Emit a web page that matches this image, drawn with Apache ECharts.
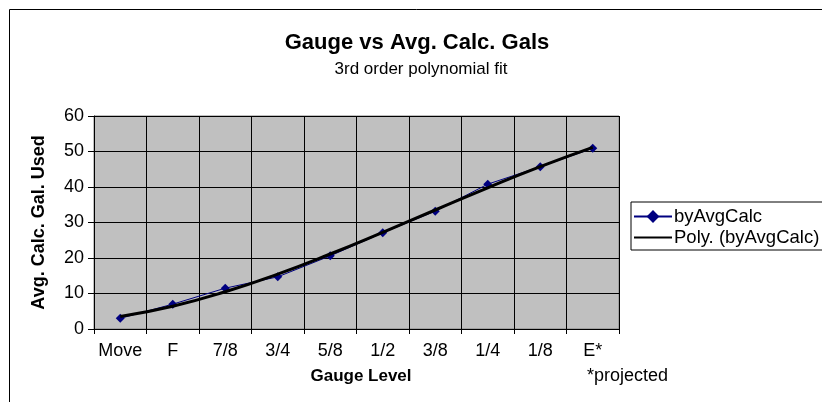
<!DOCTYPE html>
<html>
<head>
<meta charset="utf-8">
<script src="https://cdn.jsdelivr.net/npm/echarts@6/dist/echarts.min.js"></script>
<style>
  html, body { margin: 0; padding: 0; background: #fff; }
  #chart { width: 822px; height: 402px; }
</style>
</head>
<body>
<div id="chart"></div>
<script>
  // gauge levels and average calculated gallons used
  var gaugeLevels = ['Move', 'F', '7/8', '3/4', '5/8', '1/2', '3/8', '1/4', '1/8', 'E*'];
  var avgCalcGals = [3.0, 7.0, 11.5, 14.7, 20.6, 27.1, 33.2, 40.8, 45.7, 50.9];
  var yTicks = [0, 10, 20, 30, 40, 50, 60];

  // 3rd order least squares fit of the data (trendline)
  function polyFit(ys, order) {
    var n = order + 1, A = [], i, j, k;
    for (i = 0; i < n; i++) {
      A.push([]);
      for (j = 0; j <= n; j++) A[i].push(0);
    }
    ys.forEach(function (y, x) {
      for (i = 0; i < n; i++) {
        for (j = 0; j < n; j++) A[i][j] += Math.pow(x, i + j);
        A[i][n] += y * Math.pow(x, i);
      }
    });
    for (i = 0; i < n; i++) {
      for (k = i + 1; k < n; k++) {
        var f = A[k][i] / A[i][i];
        for (j = i; j <= n; j++) A[k][j] -= f * A[i][j];
      }
    }
    var c = new Array(n);
    for (i = n - 1; i >= 0; i--) {
      var s = A[i][n];
      for (j = i + 1; j < n; j++) s -= A[i][j] * c[j];
      c[i] = s / A[i][i];
    }
    return ys.map(function (y, x) {
      var v = 0;
      for (i = 0; i < n; i++) v += c[i] * Math.pow(x, i);
      return +v.toFixed(2);
    });
  }
  var polyFitGals = polyFit(avgCalcGals, 3);

  var font = 'Liberation Sans, Arial, sans-serif';
  var chart = echarts.init(document.getElementById('chart'));

  chart.setOption({
    backgroundColor: '#fff',
    animation: false,
    title: [{
      text: 'Gauge vs Avg. Calc. Gals',
      left: 412,
      top: 27,
      textAlign: 'center',
      textStyle: {fontFamily: font, fontSize: 22, fontWeight: 'bold', color: '#000'}
    }, {
      text: '3rd order polynomial fit',
      left: 416,
      top: 56,
      textAlign: 'center',
      textStyle: {fontFamily: font, fontSize: 17, fontWeight: 'normal', color: '#000'}
    }],
    legend: {
      orient: 'vertical',
      left: 631,
      top: 202,
      padding: [5, 4, 3, 2],
      itemGap: 2,
      itemWidth: 38,
      itemHeight: 16,
      borderColor: '#000',
      borderWidth: 1,
      borderRadius: 0,
      textStyle: {fontFamily: font, fontSize: 18.5, color: '#000', padding: [0, 0, 0, -3]},
      data: [
        {name: 'byAvgCalc'},
        {name: 'Poly. (byAvgCalc)', itemStyle: {opacity: 0}}
      ]
    },
    grid: {
      left: 94,
      top: 116,
      width: 525,
      height: 213,
      show: true,
      backgroundColor: '#c0c0c0',
      borderColor: '#808080',
      borderWidth: 1
    },
    xAxis: {
      type: 'category',
      data: gaugeLevels,
      boundaryGap: true,
      name: 'Gauge Level',
      nameLocation: 'middle',
      nameGap: 39,
      nameTextStyle: {fontFamily: font, fontSize: 17, fontWeight: 'bold', color: '#000', padding: [0, 0, 0, 9]},
      axisLine: {lineStyle: {color: '#000', width: 1}},
      axisTick: {show: true, interval: 0, length: 5, lineStyle: {color: '#000'}},
      axisLabel: {interval: 0, fontFamily: font, fontSize: 18, color: '#000', margin: 13},
      splitLine: {show: true, interval: 0, lineStyle: {color: '#000', width: 1}}
    },
    yAxis: {
      type: 'value',
      min: yTicks[0],
      max: yTicks[yTicks.length - 1],
      interval: 10,
      name: 'Avg. Calc. Gal. Used',
      nameLocation: 'middle',
      nameGap: 46,
      nameTextStyle: {fontFamily: font, fontSize: 18, fontWeight: 'bold', color: '#000'},
      axisLine: {show: true, lineStyle: {color: '#000', width: 1}},
      axisTick: {show: true, length: 6, lineStyle: {color: '#000'}},
      axisLabel: {fontFamily: font, fontSize: 18, color: '#000', margin: 10},
      splitLine: {show: true, lineStyle: {color: '#000', width: 1}}
    },
    graphic: [{
      type: 'rect',
      shape: {x: 9.5, y: 9.5, width: 830, height: 420},
      style: {fill: 'none', stroke: '#000', lineWidth: 1},
      silent: true
    }, {
      type: 'text',
      x: 587,
      y: 376,
      style: {text: '*projected', font: '18px ' + font, fill: '#000', textAlign: 'left', textVerticalAlign: 'middle'}
    }],
    series: [{
      name: 'byAvgCalc',
      type: 'line',
      data: avgCalcGals,
      symbol: 'diamond',
      symbolSize: 9,
      showAllSymbol: true,
      itemStyle: {color: '#000080'},
      lineStyle: {color: '#000080', width: 1},
      z: 2
    }, {
      name: 'Poly. (byAvgCalc)',
      type: 'line',
      data: polyFitGals,
      smooth: true,
      symbol: 'none',
      itemStyle: {color: '#000'},
      lineStyle: {color: '#000', width: 3},
      z: 3
    }]
  });
</script>
</body>
</html>
